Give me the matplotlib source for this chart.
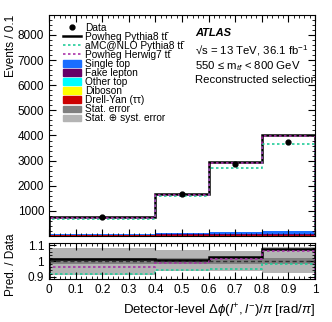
import numpy as np
import matplotlib
matplotlib.use('Agg')
from matplotlib import pyplot as plt
from matplotlib.patches import Patch
from matplotlib.lines import Line2D
from matplotlib.ticker import MultipleLocator

plt.rcParams['font.family'] = ['Liberation Sans', 'DejaVu Sans']
plt.rcParams['mathtext.fontset'] = 'custom'
plt.rcParams['mathtext.rm'] = 'Liberation Sans'
plt.rcParams['mathtext.it'] = 'Liberation Sans:italic'
plt.rcParams['mathtext.bf'] = 'Liberation Sans:bold'

# binning and values (events / 0.1)
edges = [0.0, 0.4, 0.6, 0.8, 1.0]
centers = [0.2, 0.5, 0.7, 0.9]
data = [740, 1675, 2860, 3725]
data_err = [15, 30, 40, 45]
powheg_py8 = [750, 1690, 2930, 4000]
amc_py8 = [677, 1575, 2705, 3665]
powheg_h7 = [713, 1650, 2890, 3965]

# backgrounds (stacked, bottom first)
bkg_colors = ['#cc0000', '#ffff00', '#00ffff', '#660066', '#1a6eff']
drell_yan = [40, 40, 40, 40]
diboson = [2, 3, 4, 5]
other_top = [4, 6, 8, 10]
fake_lepton = [8, 12, 15, 20]
single_top = [25, 50, 80, 110]

# ratio bands (pred / data)
stat_lo = [0.982, 0.982, 0.982, 0.982]
stat_hi = [1.018, 1.018, 1.018, 1.018]
syst_lo = [0.91, 0.938, 0.935, 0.925]
syst_hi = [1.085, 1.07, 1.065, 1.087]

c_amc = '#22cc99'
c_h7 = '#aa33aa'
tt = 't\u0074\u0304'

fig = plt.figure(figsize=(3.32, 3.22), dpi=100)
ax = fig.add_axes([0.1476, 0.267, 0.8012, 0.687])
rx = fig.add_axes([0.1476, 0.1335, 0.8012, 0.1118])

# stacked backgrounds
base = np.zeros(4)
for vals, col in zip([drell_yan, diboson, other_top, fake_lepton, single_top], bkg_colors):
    top = base + np.array(vals)
    ax.stairs(top, edges, baseline=base, fill=True, color=col, lw=0)
    base = top

ax.stairs(powheg_py8, edges, color='black', lw=1.8)
ax.stairs(amc_py8, edges, color=c_amc, lw=1.2, ls=(0, (1.5, 1.5)))
ax.stairs(powheg_h7, edges, color=c_h7, lw=1.2, ls=(0, (1.5, 1.5)))
ax.errorbar(centers, data, yerr=data_err, fmt='o', color='black', ms=3.5, lw=1)

ax.set_xlim(0, 1)
ax.set_ylim(0, 8800)
ax.yaxis.set_minor_locator(MultipleLocator(200))
ax.xaxis.set_major_locator(MultipleLocator(0.1))
ax.xaxis.set_minor_locator(MultipleLocator(0.02))
ax.set_yticks([1000, 2000, 3000, 4000, 5000, 6000, 7000, 8000])
ax.set_xticklabels([])
ax.set_ylabel('Events / 0.1', fontsize=8.5, loc='top')
ax.yaxis.set_label_coords(-0.12, 1.0)

for a in (ax, rx):
    a.tick_params(which='both', direction='in', top=True, right=True, labelsize=8.5)
    a.tick_params(which='major', length=5)
    a.tick_params(which='minor', length=2.5)

# legend
handles = [
    Line2D([], [], marker='o', color='black', ls='none', ms=3.5),
    Line2D([], [], color='black', lw=1.8),
    Line2D([], [], color=c_amc, lw=1.2, ls=(0, (1.5, 1.5))),
    Line2D([], [], color=c_h7, lw=1.2, ls=(0, (1.5, 1.5))),
    Patch(color=bkg_colors[4]),
    Patch(color=bkg_colors[3]),
    Patch(color=bkg_colors[2]),
    Patch(color=bkg_colors[1]),
    Patch(color=bkg_colors[0]),
    Patch(color='#808080'),
    Patch(color='#b4b4b4'),
]
labels = ['Data', 'Powheg Pythia8 ' + tt, 'aMC@NLO Pythia8 ' + tt,
          'Powheg Herwig7 ' + tt, 'Single top', 'Fake lepton', 'Other top',
          'Diboson', 'Drell-Yan (\u03c4\u03c4)', 'Stat. error', 'Stat. \u2295 syst. error']
ax.legend(handles, labels, loc='upper left', bbox_to_anchor=(0.053, 0.965), frameon=False,
          fontsize=7.3, handlelength=1.78, handleheight=0.6, labelspacing=-0.09,
          handletextpad=0.4, borderpad=0, borderaxespad=0)

ax.text(0.549, 0.904, 'ATLAS', transform=ax.transAxes, fontsize=8,
        fontweight='bold', fontstyle='italic')
ax.text(0.549, 0.820, '\u221as = 13 TeV, 36.1 fb$^{-1}$', transform=ax.transAxes, fontsize=8.2)
ax.text(0.549, 0.755, '550 \u2264 m$_{' + tt + '}$ < 800 GeV', transform=ax.transAxes, fontsize=8.2)
ax.text(0.549, 0.694, 'Reconstructed selection', transform=ax.transAxes, fontsize=8.2,
        clip_on=True)

# ratio panel
rx.stairs(syst_hi, edges, baseline=syst_lo, fill=True, color='#b4b4b4', lw=0)
rx.stairs(stat_hi, edges, baseline=stat_lo, fill=True, color='#808080', lw=0)
rx.axhline(1.0, color='#333333', lw=1, ls=(0, (3, 2)))
rx.stairs(np.array(powheg_py8) / np.array(data), edges, color='black', lw=1.8)
rx.stairs(np.array(amc_py8) / np.array(data), edges, color=c_amc, lw=1.2, ls=(0, (1.5, 1.5)))
rx.stairs(np.array(powheg_h7) / np.array(data), edges, color=c_h7, lw=1.2, ls=(0, (1.5, 1.5)))

rx.set_xlim(0, 1)
rx.set_ylim(0.885, 1.115)
rx.set_yticks([0.9, 1.0, 1.1])
rx.set_yticklabels(['0.9', '1', '1.1'])
rx.yaxis.set_minor_locator(MultipleLocator(0.02))
rx.xaxis.set_minor_locator(MultipleLocator(0.02))
rx.set_xticks(np.arange(0, 1.01, 0.1))
rx.set_xticklabels(['0', '0.1', '0.2', '0.3', '0.4', '0.5', '0.6', '0.7', '0.8', '0.9', '1'])
rx.set_ylabel('Pred. / Data', fontsize=8.5)
rx.yaxis.set_label_coords(-0.12, 0.4)
rx.set_xlabel('Detector-level $\\Delta\\phi(l^{+},l^{-})/\\pi$ [rad/$\\pi$]', fontsize=9.5, loc='right')

fig.savefig('out.png', dpi=100)
